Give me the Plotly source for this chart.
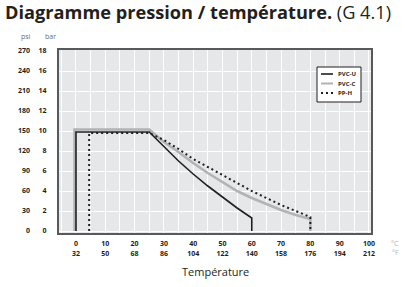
import plotly.graph_objects as go

# ---- data ----
temp_c_ticks = [0, 10, 20, 30, 40, 50, 60, 70, 80, 90, 100]
temp_f_ticks = [32, 50, 68, 86, 104, 122, 140, 158, 176, 194, 212]
bar_ticks = [0, 2, 4, 6, 8, 10, 12, 14, 16, 18]
psi_ticks = [0, 30, 60, 90, 120, 150, 180, 210, 240, 270]

pvcu_t = [0, 0, 25, 30, 35, 40, 45, 50, 55, 60, 60]
pvcu_p = [0, 9.9, 9.9, 8.4, 7.0, 5.7, 4.5, 3.4, 2.3, 1.3, 0]

pvcc_t = [-0.5, -0.5, 25, 30, 35, 40, 45, 50, 55, 60, 65, 70, 75, 80, 80]
pvcc_p = [0, 10.15, 10.15, 8.9, 7.9, 6.8, 5.8, 4.9, 4.0, 3.3, 2.7, 2.1, 1.6, 1.2, 0]

pph_t = [4.5, 4.5, 25, 30, 35, 40, 45, 50, 55, 60, 65, 70, 75, 80, 80]
pph_p = [0, 9.8, 9.8, 9.1, 8.2, 7.2, 6.4, 5.6, 4.8, 4.0, 3.3, 2.6, 2.0, 1.4, 0]

series_names = ["PVC-U", "PVC-C", "PP-H"]

W, H = 405, 287
ML, MR, MT, MB = 0, 34, 50, 54
paper_w = W - ML - MR
paper_h = H - MT - MB
plot_left = 59

dark = "#231f20"
grey_line = "#b1b3b6"
font_fam = "Open Sans, Noto Sans, sans-serif"


def px(x):
    return (x - ML) / paper_w


def py(y):
    return (H - MB - y) / paper_h


styles = {
    "PVC-U": dict(color=dark, width=1.6),
    "PVC-C": dict(color=grey_line, width=2.6),
    "PP-H": dict(color=dark, width=2, dash="2px,3px"),
}

fig = go.Figure()
fig.add_trace(go.Scatter(x=pvcc_t, y=pvcc_p, mode="lines", name="PVC-C",
                         line=styles["PVC-C"], showlegend=False))
fig.add_trace(go.Scatter(x=pvcu_t, y=pvcu_p, mode="lines", name="PVC-U",
                         line=styles["PVC-U"], showlegend=False))
fig.add_trace(go.Scatter(x=pph_t, y=pph_p, mode="lines", name="PP-H",
                         line=styles["PP-H"], showlegend=False))
# carrier for the psi axis
fig.add_trace(go.Scatter(x=[0], y=[0], yaxis="y2", mode="markers",
                         marker=dict(opacity=0), showlegend=False, hoverinfo="skip"))

tick_font = dict(family=font_fam, size=7, color=dark)

fig.update_layout(
    width=W, height=H,
    margin=dict(l=ML, r=MR, t=MT, b=MB, pad=0, autoexpand=False),
    paper_bgcolor="white",
    plot_bgcolor="#e6e7e8",
    font=dict(family=font_fam, color=dark),
    title=dict(text="<b>Diagramme pression / température.</b> (G 4.1)",
               x=5 / W, xanchor="left", y=1 - 13 / H, yanchor="middle",
               font=dict(size=18.2, color=dark)),
    xaxis=dict(domain=[px(plot_left), 1], range=[-5.8, 100.7],
               tickvals=temp_c_ticks,
               ticktext=[f"<b>{c}</b><br><b>{f}</b>" for c, f in zip(temp_c_ticks, temp_f_ticks)],
               tickfont=tick_font, ticks="", ticklabelstandoff=3,
               showgrid=True, gridcolor="white", gridwidth=1,
               minor=dict(dtick=5, tick0=0, showgrid=True, gridcolor="white", gridwidth=1),
               showline=True, linecolor="#58595b", linewidth=2, mirror=True,
               zeroline=False, automargin=False),
    yaxis=dict(range=[-0.2, 18.1], tickvals=bar_ticks,
               ticktext=[f"<b>{b}</b>" for b in bar_ticks],
               tickfont=tick_font, ticks="", ticklabelstandoff=9,
               showgrid=True, gridcolor="white", gridwidth=1,
               showline=True, linecolor="#58595b", linewidth=2, mirror=True,
               zeroline=False, automargin=False),
    yaxis2=dict(range=[-0.2, 18.1], overlaying="y", anchor="free",
                position=px(30), side="left",
                tickvals=bar_ticks, ticktext=[f"<b>{p}</b>" for p in psi_ticks],
                tickfont=tick_font, ticks="", showgrid=False, showline=False,
                zeroline=False, automargin=False),
    showlegend=False,
)

# axis title and unit labels
fig.add_annotation(text="Température", x=px(215), y=py(271), xref="paper", yref="paper",
                   showarrow=False, yanchor="middle", font=dict(size=11, color=dark))
fig.add_annotation(text="psi", x=px(19), y=py(37), xref="paper", yref="paper",
                   showarrow=False, yanchor="middle", font=dict(size=7, color="#6d6e71"))
fig.add_annotation(text="bar", x=px(43), y=py(37), xref="paper", yref="paper",
                   showarrow=False, yanchor="middle", font=dict(size=7, color="#6d6e71"))
fig.add_annotation(text="°C", x=px(401), y=py(243), xref="paper", yref="paper",
                   showarrow=False, yanchor="middle", font=dict(size=7, color=grey_line))
fig.add_annotation(text="°F", x=px(401), y=py(253), xref="paper", yref="paper",
                   showarrow=False, yanchor="middle", font=dict(size=7, color=grey_line))

# legend box
fig.add_shape(type="rect", xref="paper", yref="paper",
              x0=px(317), x1=px(361), y0=py(102), y1=py(67),
              fillcolor="white", line=dict(color=dark, width=1), layer="above")
for i, name in enumerate(series_names):
    yy = 74 + i * 9.5
    st = styles[name]
    fig.add_shape(type="line", xref="paper", yref="paper",
                  x0=px(321), x1=px(333), y0=py(yy), y1=py(yy),
                  line=dict(color=st["color"], width=min(st["width"], 2),
                            dash=st.get("dash", "solid")), layer="above")
    fig.add_annotation(text=f"<b>{name}</b>", x=px(336), y=py(yy), xref="paper", yref="paper",
                       showarrow=False, xanchor="left", yanchor="middle",
                       font=dict(size=6, color=dark))

fig.write_html("out.html", config={"displayModeBar": False},
               post_script="document.body.style.margin='0px';")
